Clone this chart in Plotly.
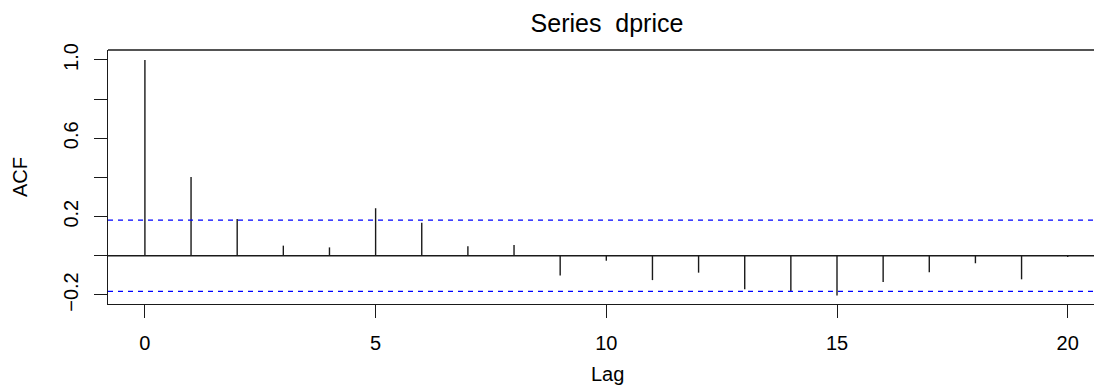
import plotly.graph_objects as go

lags = list(range(21))
acf_values = [1.0, 0.402, 0.188, 0.052, 0.043, 0.243, 0.169, 0.049, 0.055,
              -0.100, -0.025, -0.124, -0.086, -0.171, -0.181, -0.202,
              -0.134, -0.084, -0.038, -0.120, -0.006]
conf_limit = 0.182
x_ticks = [0, 5, 10, 15, 20]
y_ticks = [-0.2, 0.0, 0.2, 0.4, 0.6, 0.8, 1.0]
y_tick_labels = ["\u22120.2", "", "0.2", "", "0.6", "", "1.0"]
title_text = "Series  dprice"
x_title = "Lag"
y_title = "ACF"

FONT = "Liberation Sans, Arial, Helvetica, sans-serif"

W, H = 1094, 387
L, R, T, B = 108, 0, 50, 83

xs, ys = [], []
for lag, v in zip(lags, acf_values):
    xs += [lag, lag, None]
    ys += [0, v, None]

fig = go.Figure()
fig.add_trace(go.Scatter(x=xs, y=ys, mode="lines",
                         line=dict(color="#1a1a1a", width=1.4),
                         hoverinfo="skip", showlegend=False))

for c in (conf_limit, -conf_limit):
    fig.add_shape(type="line", xref="paper", x0=0, x1=1, yref="y", y0=c, y1=c,
                  line=dict(color="#0000ff", width=1.3, dash="5px,5px"))
fig.add_shape(type="line", xref="paper", x0=0, x1=1, yref="y", y0=0, y1=0,
              line=dict(color="#1a1a1a", width=1.4))
# top border of the box
fig.add_shape(type="line", xref="paper", x0=0, x1=1, yref="paper", y0=1, y1=1,
              line=dict(color="#1a1a1a", width=1.4))

fig.update_layout(
    width=W, height=H,
    margin=dict(l=L, r=R, t=T, b=B, pad=0),
    paper_bgcolor="white", plot_bgcolor="white",
    font=dict(family=FONT, size=20, color="black"),
    title=dict(text=title_text, x=607 / W, xref="container",
               xanchor="center", y=1 - 23 / H, yanchor="middle",
               font=dict(family=FONT, size=25, color="black")),
    xaxis=dict(range=[-0.8, 20.57], tickvals=x_ticks, ticktext=[str(v) for v in x_ticks],
               ticks="outside", ticklen=13, tickwidth=1.4, tickcolor="#1a1a1a",
               showline=True, linecolor="#1a1a1a", linewidth=1.4,
               showgrid=False, zeroline=False, ticklabelstandoff=8,
               tickfont=dict(family=FONT, size=20, color="black")),
    yaxis=dict(range=[-0.246, 1.051], tickvals=y_ticks, ticktext=y_tick_labels,
               ticks="outside", ticklen=13, tickwidth=1.4, tickcolor="#1a1a1a",
               showline=True, linecolor="#1a1a1a", linewidth=1.4,
               showgrid=False, zeroline=False, tickangle=-90, ticklabelstandoff=8,
               tickfont=dict(family=FONT, size=20, color="black")),
    annotations=[
        dict(text=x_title, xref="paper", yref="paper", x=(607 - L) / (W - L - R),
             y=(H - B - 374) / (H - T - B), xanchor="center", yanchor="middle",
             showarrow=False, font=dict(family=FONT, size=20, color="black")),
        dict(text=y_title, xref="paper", yref="paper", x=(20 - L) / (W - L - R),
             y=0.5, xanchor="center", yanchor="middle", textangle=-90,
             showarrow=False, font=dict(family=FONT, size=20, color="black")),
    ],
)

fig.write_html("out.html")
